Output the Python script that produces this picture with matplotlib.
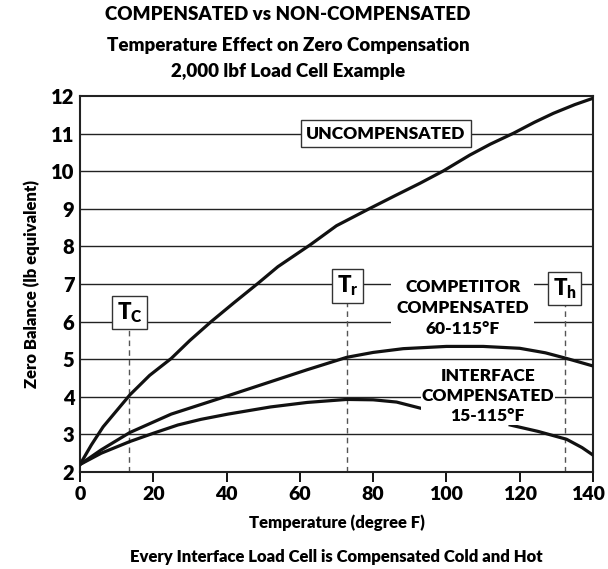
import matplotlib.pyplot as plt
import matplotlib.transforms as mtransforms
import numpy as np

# data
temp_unc = [0, 3.1, 6.3, 13.6, 19, 24.9, 30, 35.8, 42, 48.6, 54, 62.8, 70, 79.1, 86, 92.8, 99.2, 106.4, 112, 118.3, 124, 129.2, 135, 140]
zero_unc = [2.2, 2.72, 3.2, 4.05, 4.57, 5.02, 5.5, 6.0, 6.5, 7.02, 7.46, 8.04, 8.55, 9.01, 9.35, 9.68, 10.01, 10.43, 10.72, 11.01, 11.3, 11.54, 11.77, 11.94]

temp_comp = [0, 5.8, 13.6, 24.9, 39.5, 52, 62, 72.8, 80, 88.2, 100, 110, 120, 127, 132.8, 140]
zero_comp = [2.2, 2.59, 3.05, 3.54, 4.0, 4.4, 4.72, 5.05, 5.18, 5.28, 5.34, 5.34, 5.29, 5.17, 5.02, 4.82]

temp_intf = [0, 5.8, 13.6, 20, 26.7, 33, 40.4, 52, 62, 72.8, 80, 86.4, 93.2, np.nan, 117.4, 125, 132.8, 137, 140]
zero_intf = [2.2, 2.5, 2.81, 3.03, 3.25, 3.4, 3.54, 3.73, 3.85, 3.93, 3.92, 3.86, 3.69, np.nan, 3.25, 3.08, 2.87, 2.65, 2.45]

markers = [("C", 13.5, 6.24), ("r", 73, 6.95), ("h", 132.3, 6.88)]

plt.rcParams['font.family'] = ['Lato', 'DejaVu Sans']

fig = plt.figure(figsize=(6.08, 5.69), dpi=100)
ax = fig.add_axes([80/608, 1-472/569, 513/608, 376/569])

for y in range(3, 12):
    ax.axhline(y, color='#222222', lw=1.0, zorder=1)

ax.plot(temp_unc, zero_unc, color='#111111', lw=2.3, zorder=3, solid_joinstyle='round')
ax.plot(temp_comp, zero_comp, color='#111111', lw=2.3, zorder=3, solid_joinstyle='round')
ax.plot(temp_intf, zero_intf, color='#111111', lw=2.3, zorder=3, solid_joinstyle='round')

# T markers with dashed drop lines
for sub, xm, ym in markers:
    ax.plot([xm, xm], [2, ym], color='#555555', lw=1.0, ls=(0, (4, 3)), zorder=2)
    ax.text(xm, ym, r'T$_{\mathregular{%s}}$' % sub, fontsize=16, fontweight='heavy',
            ha='center', va='center', zorder=5,
            bbox=dict(boxstyle='square,pad=0.2', fc='white', ec='#333333', lw=1.0))

ax.text(83.5, 11.0, 'UNCOMPENSATED', fontsize=12.5, fontweight='heavy', ha='center', va='center',
        zorder=5, bbox=dict(boxstyle='square,pad=0.3', fc='white', ec='#333333', lw=1.0))
ax.text(104.5, 6.36, 'COMPETITOR\nCOMPENSATED\n60-115°F', fontsize=12.5, fontweight='heavy',
        ha='center', va='center', linespacing=1.4, zorder=5,
        bbox=dict(boxstyle='square,pad=0.3', fc='white', ec='none'))
ax.text(111.3, 4.02, 'INTERFACE\nCOMPENSATED\n15-115°F', fontsize=12.5, fontweight='heavy',
        ha='center', va='center', linespacing=1.3, zorder=5,
        bbox=dict(boxstyle='square,pad=0.05', fc='white', ec='none'))

ax.set_xlim(0, 140)
ax.set_ylim(2, 12)
ax.set_xticks(range(0, 141, 20))
ax.set_yticks(range(2, 13))
ax.tick_params(axis='x', direction='out', length=7, width=1.3, labelsize=14, pad=3)
ax.tick_params(axis='y', length=0, labelsize=14.5, pad=4)
for lab in ax.get_xticklabels() + ax.get_yticklabels():
    lab.set_fontweight('heavy')
# nudge the last x label so it stays inside the figure
last = ax.get_xticklabels()[-1]
last.set_transform(last.get_transform() + mtransforms.ScaledTranslation(-5/100, 0, fig.dpi_scale_trans))
for sp in ax.spines.values():
    sp.set_linewidth(1.5)
    sp.set_color('#222222')

ax.set_xlabel('Temperature (degree F)', fontsize=12, fontweight='heavy', labelpad=8)
ax.set_ylabel('Zero Balance (lb equivalent)', fontsize=12, fontweight='heavy', labelpad=8)

fig.text(288/608, 1-15/569, 'COMPENSATED vs NON-COMPENSATED', fontsize=13.5, fontweight='heavy',
         ha='center', va='center')
fig.text(288/608, 1-45/569, 'Temperature Effect on Zero Compensation', fontsize=13.5,
         fontweight='heavy', ha='center', va='center')
fig.text(288/608, 1-72/569, '2,000 lbf Load Cell Example', fontsize=13.5, fontweight='heavy',
         ha='center', va='center')
fig.text(336/608, 1-557/569, 'Every Interface Load Cell is Compensated Cold and Hot',
         fontsize=12, fontweight='heavy', ha='center', va='center')

fig.savefig('out.png', dpi=100)
